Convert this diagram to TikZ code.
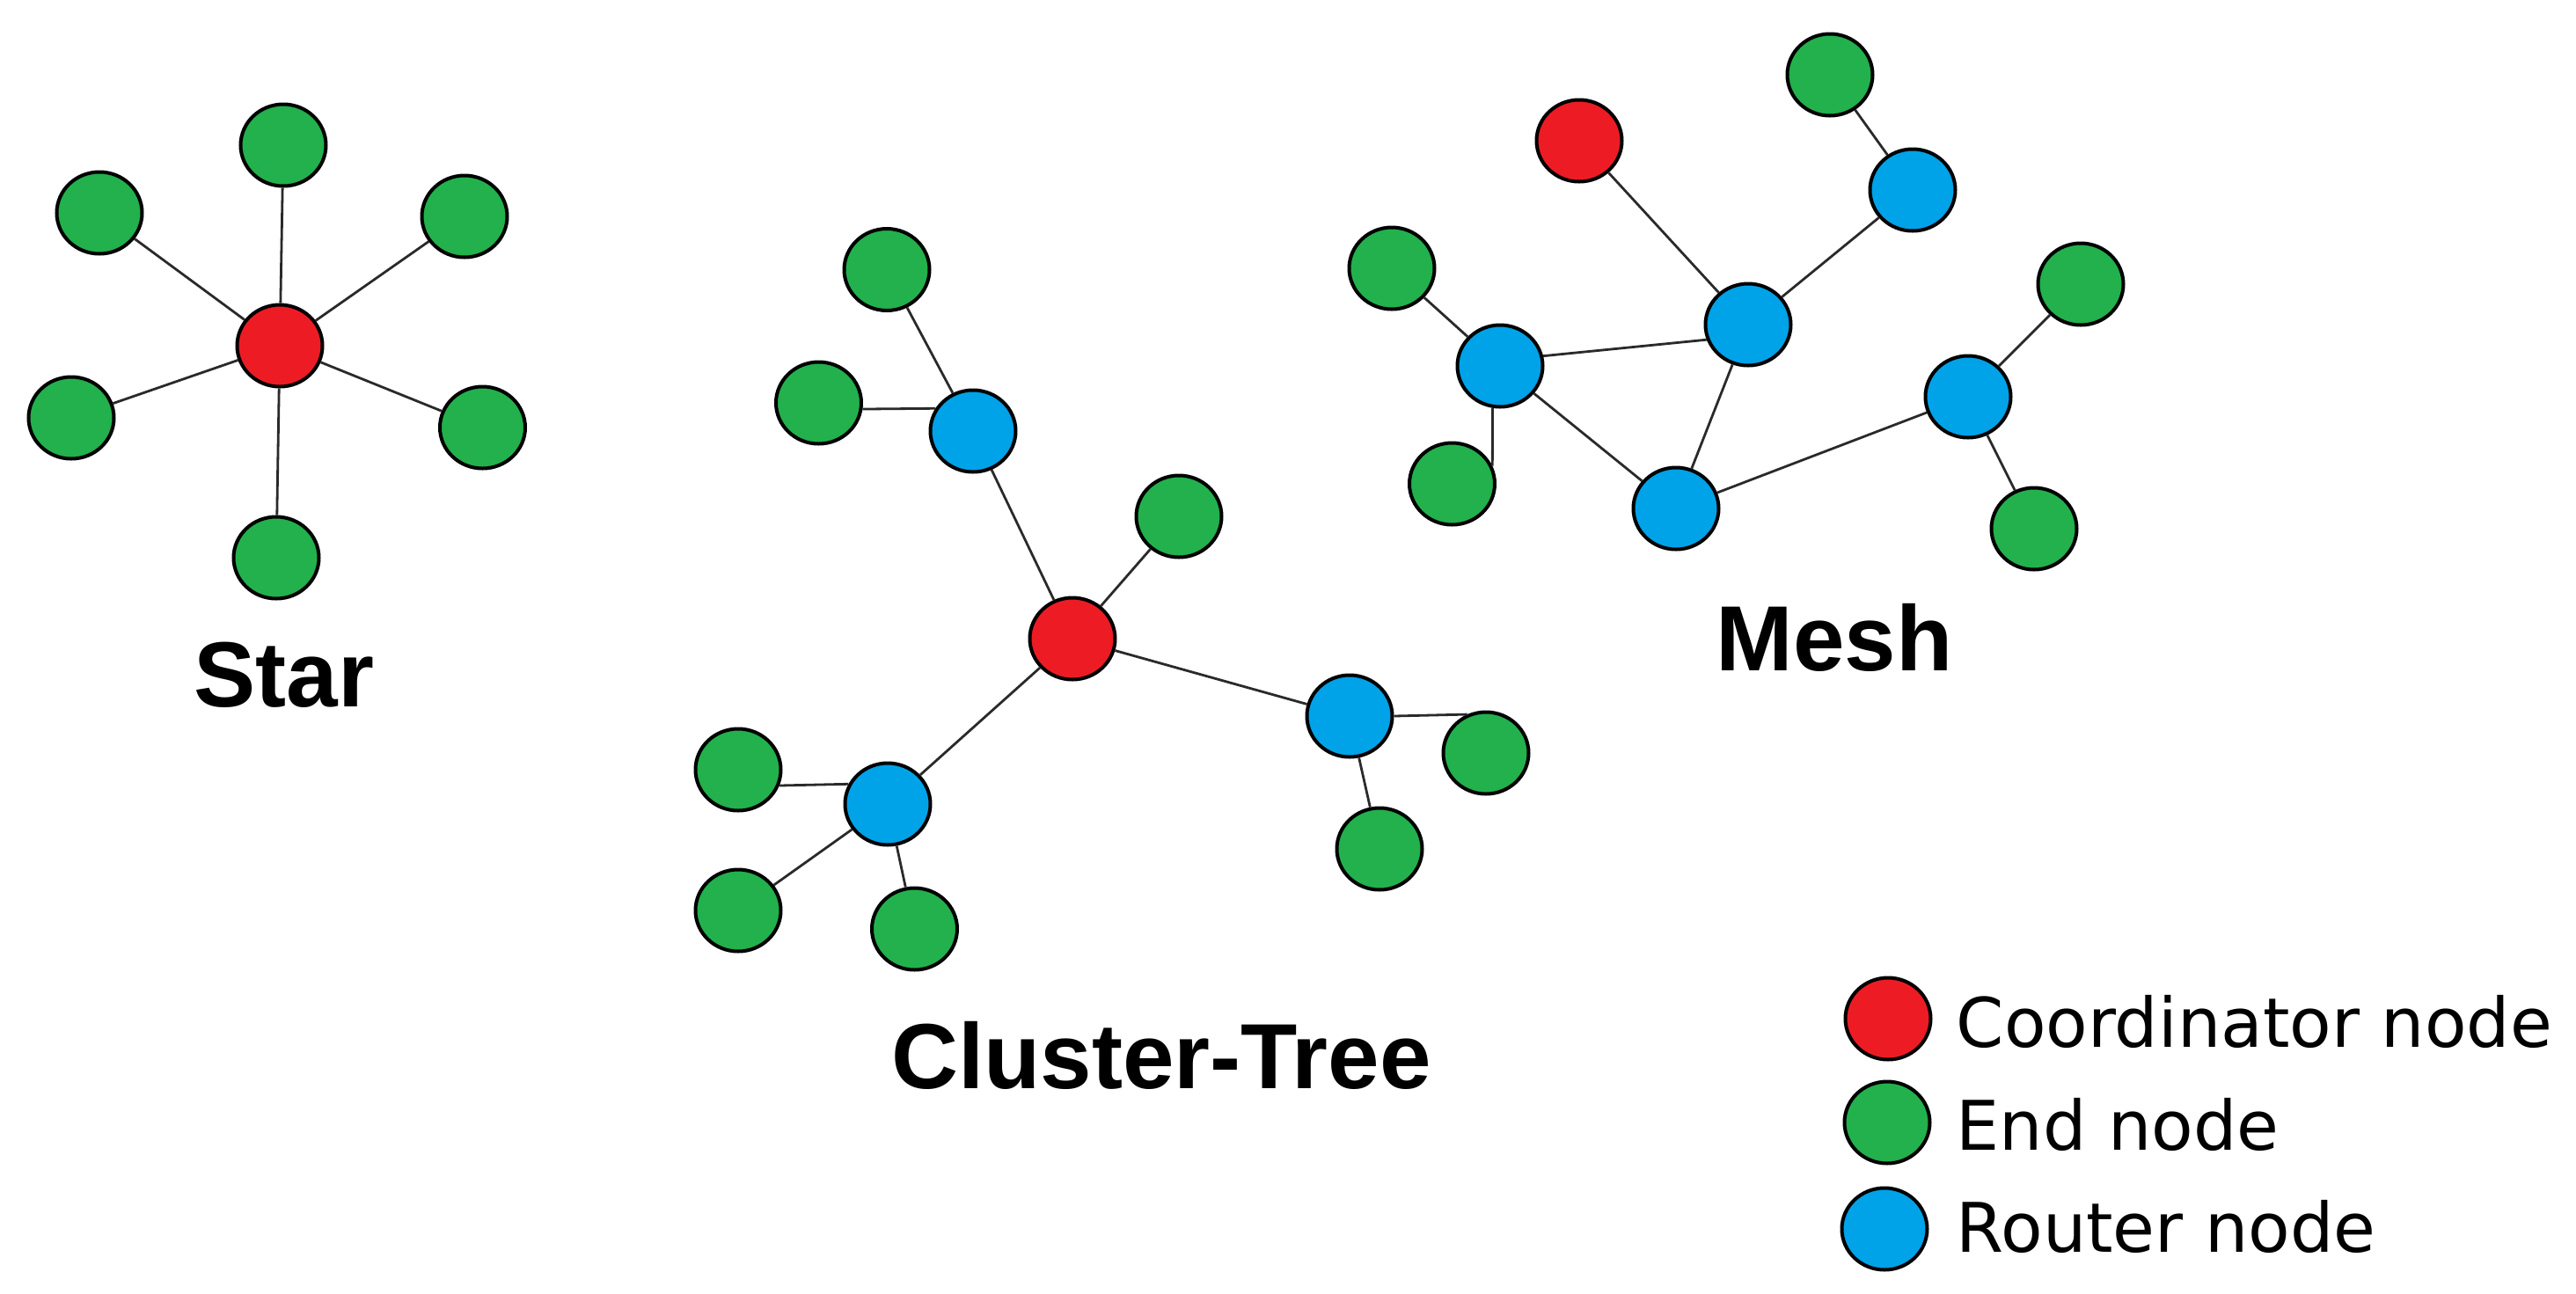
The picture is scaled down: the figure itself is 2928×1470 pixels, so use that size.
\documentclass[tikz,border=0pt]{standalone}
\usepackage{fontspec}
\setmainfont{Liberation Sans}
\newfontfamily\legendfont{DejaVu Sans}
\usetikzlibrary{shapes.geometric}
\definecolor{cred}{HTML}{ED1C24}
\definecolor{cgreen}{HTML}{22B14C}
\definecolor{cblue}{HTML}{00A2E8}
\definecolor{cline}{HTML}{2A2A2A}
\begin{document}
\begin{tikzpicture}[x=0.25pt,y=-0.25pt,
  nd/.style={ellipse, draw=black, line width=1pt, minimum width=24.25pt, minimum height=23.25pt, inner sep=0pt},
  coordn/.style={nd, fill=cred},
  endn/.style={nd, fill=cgreen},
  routern/.style={nd, fill=cblue},
  link/.style={draw=cline, line width=0.7pt},
  title/.style={font=\fontsize{26.3pt}{30pt}\selectfont\bfseries, anchor=base, inner sep=0pt},
  legtext/.style={font=\legendfont\fontsize{19.45pt}{23pt}\selectfont, anchor=base west, inner sep=0pt}]

\fill[white] (0,0) rectangle (2928,1470);
\useasboundingbox (0,0) rectangle (2928,1470);

% ---------- Star ----------
\node[coordn] (s0) at (318,393) {};
\node[endn] (s1) at (322,165) {};
\node[endn] (s2) at (113,242) {};
\node[endn] (s3) at (528,246) {};
\node[endn] (s4) at (81,475) {};
\node[endn] (s5) at (548.5,486) {};
\node[endn] (s6) at (314,634) {};
\foreach \n in {s1,s2,s3,s4,s5,s6} \draw[link] (s0) -- (\n);
\node[title] (tstar) at (322.7,803) {Star};

% ---------- Cluster-Tree ----------
\node[coordn] (c0) at (1219,726) {};
\node[routern] (cb1) at (1106,490) {};
\node[routern] (cb2) at (1534,814) {};
\node[routern] (cb3) at (1009,914) {};
\node[endn] (cg1) at (1008,306.5) {};
\node[endn] (cg2) at (930.5,458) {};
\node[endn] (cg3) at (1340,587) {};
\node[endn] (cg4) at (1689,856) {};
\node[endn] (cg5) at (1568,965) {};
\node[endn] (cg6) at (839,875) {};
\node[endn] (cg7) at (839,1035) {};
\node[endn] (cg8) at (1039.5,1056) {};
\draw[link] (c0) -- (cb1);
\draw[link] (c0) -- (cb2);
\draw[link] (c0) -- (cb3);
\draw[link] (c0) -- (cg3);
\draw[link] (cb1) -- (cg1);
\draw[link] (cg2.-8) -- (cb1.149);
\draw[link] (cb2.east) -- (cg4.116);
\draw[link] (cb2) -- (cg5);
\draw[link] (cg6.-21) -- (cb3.153);
\draw[link] (cb3) -- (cg7);
\draw[link] (cb3) -- (cg8);
\node[title] (tcluster) at (1320,1237) {Cluster-Tree};

% ---------- Mesh ----------
\node[coordn] (m0) at (1795,160) {};
\node[routern] (mb1) at (2174,216) {};
\node[routern] (mb2) at (1987,369) {};
\node[routern] (mb3) at (1705,416) {};
\node[routern] (mb4) at (1905,578) {};
\node[routern] (mb5) at (2237,451) {};
\node[endn] (mg1) at (2080,85) {};
\node[endn] (mg2) at (1582,305) {};
\node[endn] (mg3) at (1650.5,550) {};
\node[endn] (mg4) at (2365,323) {};
\node[endn] (mg5) at (2312,601) {};
\draw[link] (m0) -- (mb2);
\draw[link] (mg1) -- (mb1);
\draw[link] (mb1) -- (mb2);
\draw[link] (mg2) -- (mb3);
\draw[link] (mb3.13) -- (mb2.200);
\draw[link] (mb3.260) -- (mg3.24);
\draw[link] (mb3) -- (mb4);
\draw[link] (mb2) -- (mb4);
\draw[link] (mb4) -- (mb5);
\draw[link] (mb5) -- (mg4);
\draw[link] (mb5) -- (mg5);
\node[title] (tmesh) at (2085,762) {Mesh};

% ---------- Legend ----------
\node[coordn] (l1) at (2146,1158) {};
\node[endn] (l2) at (2145,1276) {};
\node[routern] (l3) at (2142,1397) {};
\node[legtext] (lt1) at (2223,1190) {Coordinator node};
\node[legtext] (lt2) at (2223,1307) {End node};
\node[legtext] (lt3) at (2223,1423) {Router node};
\end{tikzpicture}
\end{document}
